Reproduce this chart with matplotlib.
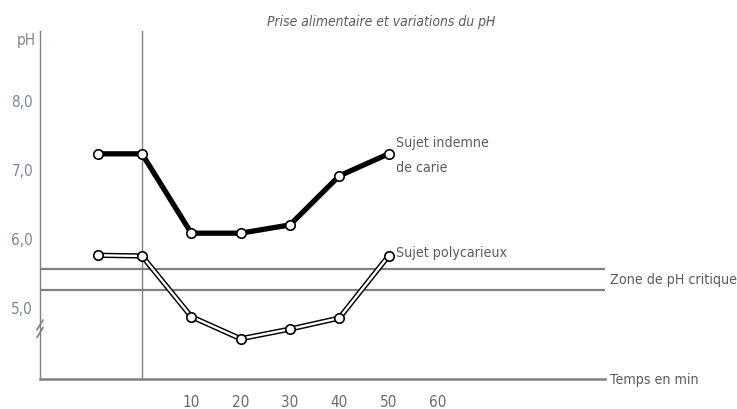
import matplotlib
matplotlib.use("Agg")
import matplotlib.pyplot as plt

# time in minutes (0 = food intake), pH values
temps = [-9, 0, 10, 20, 30, 40, 50]
ph_indemne = [7.22, 7.22, 6.07, 6.07, 6.19, 6.90, 7.22]
ph_polycarieux = [5.75, 5.74, 4.86, 4.54, 4.68, 4.84, 5.74]

zone_critique = [5.25, 5.55]
xticks = [10, 20, 30, 40, 50, 60]
yticks = [5, 6, 7, 8]
ytick_labels = ["5,0", "6,0", "7,0", "8,0"]

plt.rcParams['font.family'] = ['DejaVu Sans']
plt.rcParams['font.stretch'] = 'condensed'
txt = '#5c5c5c'
tick_col = '#7d8591'
axis_col = '#808080'
fs = 11
fs_lab = 10.2

fig = plt.figure(figsize=(7.37, 4.10), dpi=100)
ax = fig.add_axes([40/737, 1 - 380/410, 565/737, 348/410])
ax.set_xlim(-20.69, 93.9)
ax.set_ylim(3.957, 9.0)

for s in ['top', 'right']:
    ax.spines[s].set_visible(False)
ax.spines['left'].set_color(axis_col)
ax.spines['left'].set_linewidth(1.0)
ax.spines['bottom'].set_color(axis_col)
ax.spines['bottom'].set_linewidth(1.8)

ax.set_xticks(xticks)
ax.set_xticklabels([str(t) for t in xticks])
ax.set_yticks(yticks)
ax.set_yticklabels(ytick_labels)
ax.tick_params(axis='x', length=0, pad=11, labelsize=fs, labelcolor='#6a6a6a')
ax.tick_params(axis='y', length=0, pad=5, labelsize=fs, labelcolor=tick_col)

# reference lines
ax.axvline(0, color=axis_col, lw=1.0, zorder=1)
for z in zone_critique:
    ax.axhline(z, color=axis_col, lw=1.6, zorder=1)

# sujet indemne : thick black line
ax.plot(temps, ph_indemne, color='black', lw=3.8, zorder=3,
        marker='o', ms=6.8, mfc='white', mec='black', mew=1.2)

# sujet polycarieux : double (hollow) line
ax.plot(temps, ph_polycarieux, color='black', lw=3.8, zorder=3)
ax.plot(temps, ph_polycarieux, color='white', lw=1.7, zorder=4,
        marker='o', ms=6.8, mfc='white', mec='black', mew=1.2)

# axis break marks
for yb in [4.74, 4.63]:
    ax.plot([-21.3, -20.1], [yb - 0.07, yb + 0.07], color=axis_col, lw=1.2,
            clip_on=False, zorder=5)

ax.text(-21.6, 8.88, "pH", ha='right', va='center', fontsize=fs, color=tick_col)
ax.text(51.5, 7.21, "Sujet indemne\nde carie", ha='left', va='center',
        fontsize=fs_lab, color=txt, linespacing=1.95)
ax.text(51.5, 5.8, "Sujet polycarieux", ha='left', va='center', fontsize=fs_lab, color=txt)
ax.text(95, 5.4, "Zone de pH critique", ha='left', va='center', fontsize=fs_lab,
        color=txt, clip_on=False)
ax.text(95, 3.96, "Temps en min", ha='left', va='center', fontsize=fs_lab,
        color=txt, clip_on=False)

fig.text(381/737, 1 - 22/410, "Prise alimentaire et variations du pH",
         ha='center', va='center', fontsize=10, style='italic', color=txt)

fig.savefig("out.png", dpi=100)
